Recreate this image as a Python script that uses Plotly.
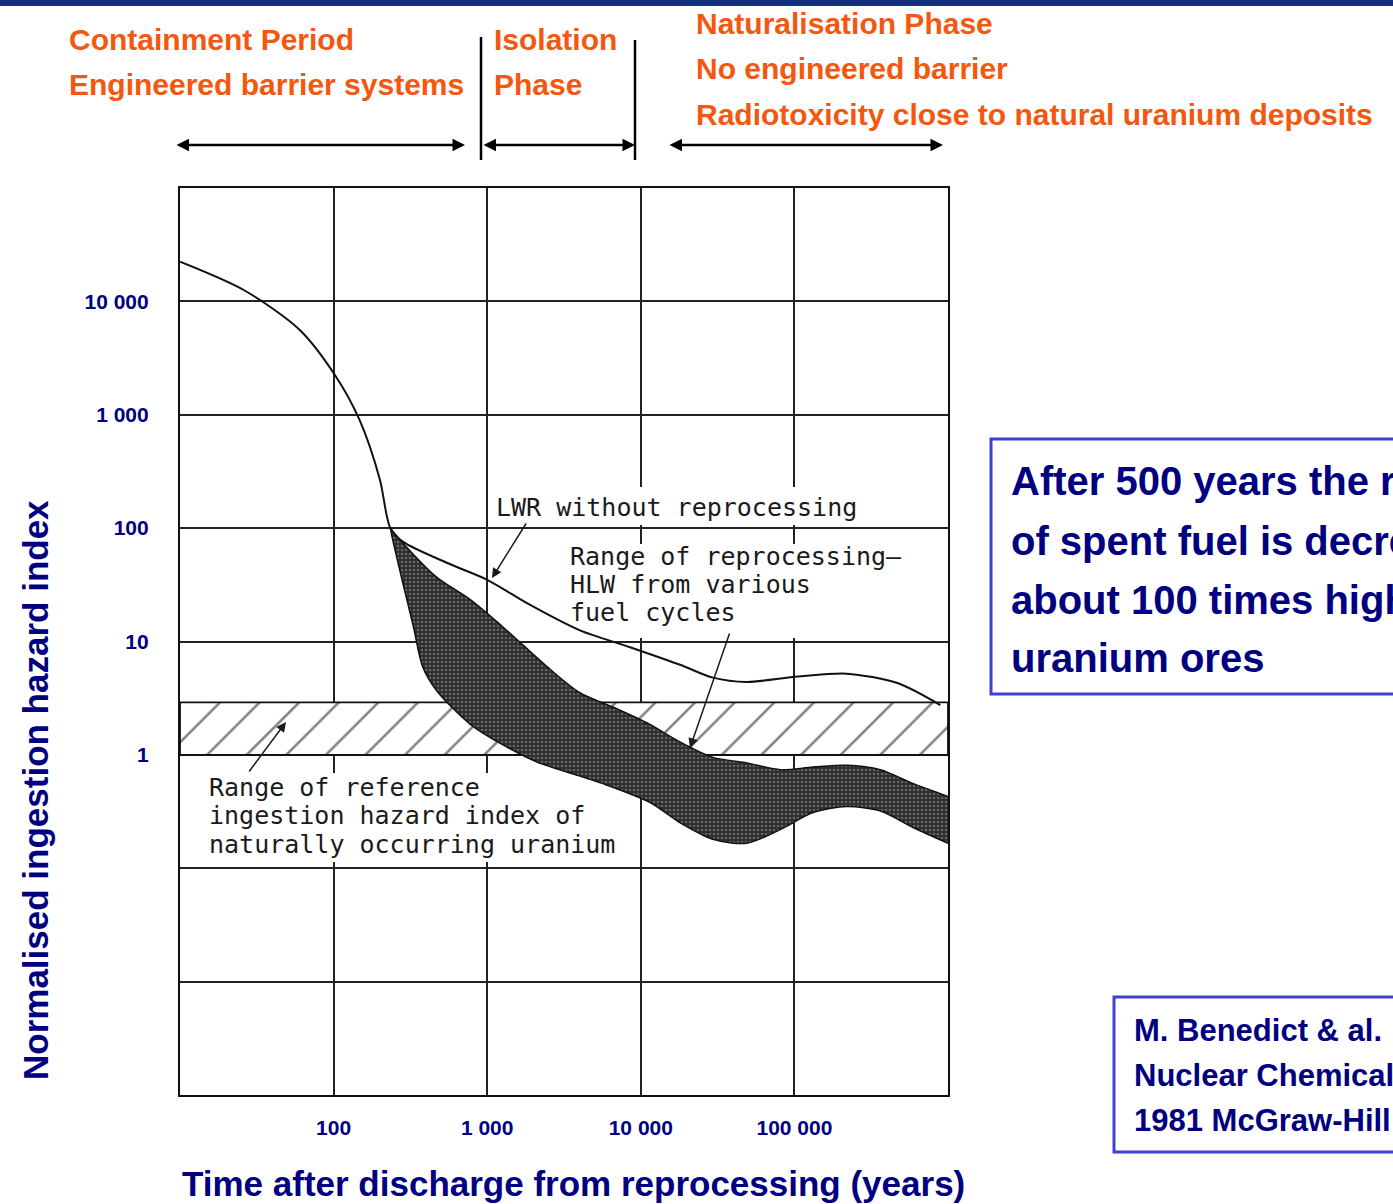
import plotly.graph_objects as go

# ---- data ----
# LWR spent fuel without reprocessing
lwr_years = [10, 26, 60, 102, 148, 200, 234, 282, 575, 1000, 1905, 3980,
             8510, 18200, 29500, 49000, 105000, 219000, 468000, 891000]
lwr_index = [22400, 12600, 5620, 2240, 891, 269, 100, 76, 48, 35, 21, 12.6,
             8.9, 6.2, 4.8, 4.4, 4.9, 5.2, 4.3, 2.75]

# range of reprocessing HLW (upper / lower edges of the band)
hlw_up_years = [234, 282, 468, 776, 1260, 2450, 3980, 6610, 11000, 18200,
                29500, 49000, 81300, 132000, 219000, 363000, 589000, 1000000]
hlw_up_index = [100, 74, 37, 23.4, 13.5, 6.0, 3.55, 2.63, 1.91, 1.29,
                0.95, 0.85, 0.74, 0.78, 0.81, 0.74, 0.56, 0.43]
hlw_lo_years = [234, 245, 282, 331, 380, 468, 776, 1260, 2090, 5620, 11500,
                18200, 29500, 49000, 81300, 132000, 219000, 363000, 589000, 1000000]
hlw_lo_index = [100, 74, 33, 13.5, 6.0, 3.7, 1.86, 1.23, 0.87, 0.56, 0.38,
                0.25, 0.18, 0.166, 0.22, 0.31, 0.35, 0.32, 0.23, 0.166]

# natural uranium reference range
uranium_years = [10, 1000000]
uranium_low = 1
uranium_high = 2.9

x_tick_vals = [10, 100, 1000, 10000, 100000, 1000000]
x_tick_text = ["", "100", "1 000", "10 000", "100 000", ""]
y_tick_vals = [0.001, 0.01, 0.1, 1, 10, 100, 1000, 10000, 100000]
y_tick_text = ["", "", "", "1", "10", "100", "1 000", "10 000", ""]

NAVY = "#000080"
ORANGE = "#F5570F"
SANS = "Liberation Sans, Arial, sans-serif"
TYPE = "DejaVu Sans Mono, monospace"
INK = "#1a1a1a"

W, H = 1393, 1204
L, R, T, B = 180, 948, 188, 1095   # plot area in pixels


def px(x):
    return (x - L) / (R - L)


def py(y):
    return (B - y) / (B - T)


def dx(p):
    # pixel -> data value on the x axis (for the mask boxes)
    return 10 ** (1 + 5 * (p - L) / (R - L))


def dy(p):
    return 10 ** (5 - 8 * (p - T) / (B - T))


fig = go.Figure()

# hatched uranium band
fig.add_trace(go.Scatter(
    x=[uranium_years[0], uranium_years[1], uranium_years[1], uranium_years[0], uranium_years[0]],
    y=[uranium_low, uranium_low, uranium_high, uranium_high, uranium_low],
    mode="lines", fill="toself", fillcolor="white",
    fillpattern=dict(shape="/", size=28, solidity=0.09, fgcolor="#000", bgcolor="white"),
    line=dict(color="#111", width=1.8), hoverinfo="skip", showlegend=False))

# stippled HLW band
fig.add_trace(go.Scatter(x=hlw_up_years, y=hlw_up_index, mode="lines",
                         line=dict(color="#111", width=1.5, shape="spline", smoothing=0.8),
                         hoverinfo="skip", showlegend=False))
fig.add_trace(go.Scatter(x=hlw_lo_years, y=hlw_lo_index, mode="lines", fill="tonexty",
                         fillpattern=dict(shape=".", size=4, solidity=0.35,
                                          fgcolor="#a0a0a0", bgcolor="#2c2c2c"),
                         line=dict(color="#111", width=1.5, shape="spline", smoothing=0.8),
                         hoverinfo="skip", showlegend=False))

# LWR line
fig.add_trace(go.Scatter(x=lwr_years, y=lwr_index, mode="lines",
                         line=dict(color="#111", width=2, shape="spline", smoothing=0.8),
                         hoverinfo="skip", showlegend=False))

fig.update_xaxes(type="log", range=[1, 6], tickvals=x_tick_vals, ticktext=x_tick_text,
                 showgrid=True, gridcolor="#222", gridwidth=1.6,
                 showline=True, linecolor="#111", linewidth=2.2, mirror=True,
                 ticks="", ticklabelstandoff=13,
                 tickfont=dict(family=SANS, size=21, color=NAVY, weight="bold"))
fig.update_yaxes(type="log", range=[-3, 5], tickvals=y_tick_vals, ticktext=y_tick_text,
                 showgrid=True, gridcolor="#222", gridwidth=1.6,
                 showline=True, linecolor="#111", linewidth=2.2, mirror=True,
                 ticks="", ticklabelstandoff=25,
                 tickfont=dict(family=SANS, size=21, color=NAVY, weight="bold"))

# white boxes behind the in-plot labels (hide grid lines, stay under the curves)
for x0, x1, y0, y1 in [(490, 886, 487, 525), (562, 926, 544, 638), (186, 620, 773, 862)]:
    fig.add_shape(type="rect", xref="x", yref="y", layer="between",
                  x0=dx(x0), x1=dx(x1), y0=dy(y1), y1=dy(y0),
                  line=dict(width=0), fillcolor="white")

shapes = [
    # top navy bar
    dict(type="rect", xref="paper", yref="paper", x0=px(-5), x1=px(W + 5), y0=py(6), y1=py(-5),
         line=dict(width=0), fillcolor="#13307A"),
    # phase separators
    dict(type="line", xref="paper", yref="paper", x0=px(481), x1=px(481), y0=py(160), y1=py(37),
         line=dict(color="black", width=2.5)),
    dict(type="line", xref="paper", yref="paper", x0=px(635), x1=px(635), y0=py(160), y1=py(40),
         line=dict(color="black", width=2.5)),
    # side boxes
    dict(type="rect", xref="paper", yref="paper", x0=px(991), x1=px(W + 20), y0=py(694), y1=py(439),
         line=dict(color="#3F3FD0", width=3)),
    dict(type="rect", xref="paper", yref="paper", x0=px(1114), x1=px(W + 20), y0=py(1152), y1=py(997),
         line=dict(color="#3F3FD0", width=3)),
]
for s in shapes:
    fig.add_shape(**s)

ann = []


def lines(x, ys, texts, size, color, family=SANS, bold=True):
    for y, t in zip(ys, texts):
        ann.append(dict(x=px(x), y=py(y), xref="paper", yref="paper", text=t, showarrow=False,
                        xanchor="left", yanchor="middle", align="left", borderpad=0,
                        font=dict(family=family, size=size, color=color,
                                  weight="bold" if bold else "normal")))


def arrow(x0, y0, x1, y1, width=2.5, both=False, head=2, size=1.0, color="black"):
    ann.append(dict(x=px(x1), y=py(y1), xref="paper", yref="paper", text="",
                    ax=x0 - x1, ay=y0 - y1, showarrow=True,
                    arrowhead=head, startarrowhead=head, arrowsize=size, startarrowsize=size,
                    arrowwidth=width, arrowcolor=color,
                    arrowside="end+start" if both else "end"))


# phase headings
lines(68, [40, 85], ["Containment Period", "Engineered barrier systems"], 30, ORANGE)
lines(493, [40, 85], ["Isolation", "Phase"], 30, ORANGE)
lines(695, [23, 69, 115], ["Naturalisation Phase", "No engineered barrier",
                           "Radiotoxicity close to natural uranium deposits"], 30, ORANGE)
arrow(175, 145, 465, 145, both=True)
arrow(482, 145, 635, 145, both=True)
arrow(668, 145, 943, 145, both=True)

# in-plot labels
lines(495, [507], ["LWR without reprocessing"], 25, INK, family=TYPE, bold=False)
lines(569, [556, 584, 612], ["Range of reprocessing—", "HLW from various", "fuel cycles"],
      25, INK, family=TYPE, bold=False)
lines(208, [787, 815, 844], ["Range of reference", "ingestion hazard index of",
                             "naturally occurring uranium"], 25, INK, family=TYPE, bold=False)
arrow(527, 522, 492, 578, width=1.5, head=2, size=1.3, color=INK)
arrow(730, 632, 690, 748, width=1.5, head=2, size=1.3, color=INK)
arrow(248, 773, 286, 722, width=1.5, head=2, size=1.3, color=INK)

# side notes
lines(1010, [481, 541, 600, 658], ["After 500 years the radiotoxicity", "of spent fuel is decreased to",
                                   "about 100 times higher than", "uranium ores"], 40, NAVY)
lines(1133, [1030, 1075, 1120], ["M. Benedict &amp; al.", "Nuclear Chemical Engineering",
                                 "1981 McGraw-Hill"], 31, NAVY)

# axis titles
ann.append(dict(x=px(35), y=py(790), xref="paper", yref="paper", showarrow=False,
                text="Normalised ingestion hazard index", textangle=-90,
                xanchor="center", yanchor="middle",
                font=dict(family=SANS, size=35, color=NAVY, weight="bold")))
ann.append(dict(x=px(573), y=py(1183), xref="paper", yref="paper", showarrow=False,
                text="Time after discharge from reprocessing (years)",
                xanchor="center", yanchor="middle",
                font=dict(family=SANS, size=35, color=NAVY, weight="bold")))

fig.update_layout(
    width=W, height=H,
    margin=dict(l=L, r=W - R, t=T, b=H - B),
    paper_bgcolor="white", plot_bgcolor="white",
    annotations=ann,
    showlegend=False,
)

fig.write_html("out.html", config={"displayModeBar": False},
               post_script="document.body.style.margin='0';")
